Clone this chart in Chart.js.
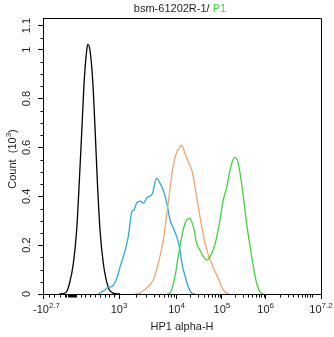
<!DOCTYPE html>
<html><head><meta charset="utf-8">
<script src="https://cdn.jsdelivr.net/npm/chart.js@4/dist/chart.umd.min.js"></script>
<style>html,body{margin:0;padding:0;background:#fff}#wrap{width:334px;height:337px}</style>
</head><body><div id="wrap"><canvas id="c" width="334" height="337"></canvas></div>
<script>
// ---- text ----
const titleMain = 'bsm-61202R-1/ ';
const titleGate = 'P1';
const xAxisTitle = 'HP1 alpha-H';
const yAxisTitleParts = ['Count  (10', '3', ')'];

// ---- axes (x in display channels 0..1024 of a biexponential axis) ----
const xTickChannels = [0, 280, 492, 659, 820, 1024];
const xTickBase = ['-10', '10', '10', '10', '10', '10'];
const xTickExp = ['2.7', '3', '4', '5', '6', '7.2'];
const xAnchorValues = [-501, 0, 1000, 1e4, 1e5, 1e6, 15848932];
const xAnchorChannels = [0, 103, 280, 492, 659, 820, 1024];
const xMinorValues = [-400, -300, -200, -100, -80, -60, -40, -20, 0, 20, 40, 60, 80, 100, 200, 300, 400, 500, 600, 700, 800, 900,
  2e3, 3e3, 4e3, 5e3, 6e3, 7e3, 8e3, 9e3, 2e4, 3e4, 4e4, 5e4, 6e4, 7e4, 8e4, 9e4,
  2e5, 3e5, 4e5, 5e5, 6e5, 7e5, 8e5, 9e5, 2e6, 3e6, 4e6, 5e6, 6e6, 7e6, 8e6, 9e6, 1e7];
const yTickValues = [0, 0.2, 0.4, 0.6, 0.8, 1, 1.1];
const yTickLabels = ['0', '0.2', '0.4', '0.6', '0.8', '1', '1.1'];
const yMinorValues = [0.05, 0.1, 0.15, 0.25, 0.3, 0.35, 0.45, 0.5, 0.55, 0.65, 0.7, 0.75, 0.85, 0.9, 0.95, 1.05];

// ---- histogram series (count in thousands) ----
const blackX = [60, 84, 98, 112, 124, 134, 143, 152, 161, 165, 173, 183, 192, 200, 210, 222, 240, 258, 284];
const blackY = [0, 0.005, 0.045, 0.127, 0.262, 0.466, 0.671, 0.875, 0.998, 1.022, 0.998, 0.875, 0.671, 0.466, 0.262, 0.127, 0.029, 0.004, 0];
const blueX = [203, 228, 239, 253, 262, 274, 285, 296, 314, 327, 335, 345, 357, 370, 382, 394, 404, 413, 419, 431, 443, 456, 468, 480, 493, 505, 511, 523, 535, 548, 560];
const blueY = [0, 0.016, 0.027, 0.030, 0.041, 0.071, 0.115, 0.153, 0.234, 0.337, 0.344, 0.372, 0.380, 0.372, 0.393, 0.401, 0.413, 0.459, 0.473, 0.453, 0.425, 0.372, 0.303, 0.270, 0.233, 0.180, 0.131, 0.074, 0.030, 0.004, 0];
const orangeX = [339, 357, 382, 406, 425, 443, 456, 468, 480, 493, 505, 511, 523, 535, 548, 560, 572, 585, 597, 609, 621, 634, 646, 658, 670, 685];
const orangeY = [0, 0.004, 0.025, 0.057, 0.127, 0.221, 0.327, 0.431, 0.528, 0.581, 0.602, 0.609, 0.575, 0.541, 0.507, 0.439, 0.357, 0.275, 0.207, 0.160, 0.126, 0.091, 0.064, 0.030, 0.009, 0];
const greenX = [457, 468, 486, 498, 511, 523, 539, 554, 566, 578, 591, 603, 615, 627, 640, 652, 664, 677, 689, 699, 707, 716, 726, 738, 750, 763, 775, 787, 799, 812];
const greenY = [0, 0.004, 0.071, 0.153, 0.234, 0.289, 0.310, 0.275, 0.207, 0.180, 0.153, 0.139, 0.153, 0.180, 0.234, 0.303, 0.384, 0.439, 0.507, 0.548, 0.559, 0.548, 0.494, 0.398, 0.289, 0.193, 0.112, 0.044, 0.009, 0];

const FONT = '"Liberation Sans", Arial, sans-serif';
const TEXT = '#1e1e1e';

function valueToChannel(v) {
  const A = xAnchorValues, C = xAnchorChannels;
  for (let i = 0; i < A.length - 1; i++) {
    if (v >= A[i] && v <= A[i + 1]) {
      let t;
      if (A[i] >= 1000) t = (Math.log10(v) - Math.log10(A[i])) / (Math.log10(A[i + 1]) - Math.log10(A[i]));
      else t = (v - A[i]) / (A[i + 1] - A[i]);
      return C[i] + t * (C[i + 1] - C[i]);
    }
  }
  return null;
}
const pts = (xs, ys) => xs.map((x, i) => ({x: x, y: ys[i]}));
const al = v => Math.round(v) + 0.5;

function drawSupText(ctx, parts, x, y, align) {
  const fb = '11px ' + FONT, fs = '8px ' + FONT;
  ctx.font = fb; const w0 = ctx.measureText(parts[0]).width;
  ctx.font = fs; const w1 = ctx.measureText(parts[1]).width;
  ctx.font = fb; const w2 = parts[2] ? ctx.measureText(parts[2]).width : 0;
  const tot = w0 + w1 + w2;
  let left = align === 'center' ? x - tot / 2 : x;
  ctx.textAlign = 'left'; ctx.textBaseline = 'alphabetic';
  ctx.font = fb; ctx.fillText(parts[0], left, y);
  ctx.font = fs; ctx.fillText(parts[1], left + w0, y - 5);
  if (parts[2]) { ctx.font = fb; ctx.fillText(parts[2], left + w0 + w1, y); }
  return tot;
}

const overlay = {
  id: 'overlay',
  afterDraw(chart) {
    const ctx = chart.ctx, a = chart.chartArea, xs = chart.scales.x, ys = chart.scales.y;
    ctx.save();
    ctx.strokeStyle = '#000'; ctx.lineWidth = 1;
    const top = al(a.top), right = al(a.right), bottom = al(a.bottom), left = al(a.left);
    ctx.beginPath();
    ctx.moveTo(left, top); ctx.lineTo(right, top); ctx.lineTo(right, bottom);
    ctx.stroke();
    // minor ticks
    ctx.beginPath();
    yMinorValues.forEach(v => { const p = al(ys.getPixelForValue(v)); ctx.moveTo(left - 3, p); ctx.lineTo(left, p); });
    xMinorValues.forEach(v => { const c = valueToChannel(v); const p = al(xs.getPixelForValue(c)); ctx.moveTo(p, bottom); ctx.lineTo(p, bottom + 3); });
    ctx.stroke();
    ctx.fillStyle = TEXT;
    // y tick labels (rotated)
    ctx.font = '11px ' + FONT;
    yTickValues.forEach((v, i) => {
      let p = ys.getPixelForValue(v);
      ctx.font = '11px ' + FONT;
      const hw = ctx.measureText(yTickLabels[i]).width / 2;
      if (p - hw < a.top) p = a.top + hw;
      ctx.save();
      ctx.translate(30, p);
      ctx.rotate(-Math.PI / 2);
      ctx.textAlign = 'center'; ctx.textBaseline = 'alphabetic';
      ctx.fillText(yTickLabels[i], 0, 0);
      ctx.restore();
    });
    // x tick labels
    xTickChannels.forEach((c, i) => {
      let p = xs.getPixelForValue(c);
      ctx.font = '11px ' + FONT; const wb = ctx.measureText(xTickBase[i]).width;
      ctx.font = '8px ' + FONT; const we = ctx.measureText(xTickExp[i]).width;
      let l = p - (wb + we) / 2;
      if (l < 33) l = 33;
      drawSupText(ctx, [xTickBase[i], xTickExp[i], ''], l, 313, 'left');
    });
    // axis titles
    ctx.font = '11px ' + FONT; ctx.textAlign = 'center'; ctx.textBaseline = 'alphabetic';
    ctx.fillText(xAxisTitle, (a.left + a.right) / 2, 330);
    ctx.save();
    ctx.translate(16, (a.top + a.bottom) / 2 + 3);
    ctx.rotate(-Math.PI / 2);
    drawSupText(ctx, yAxisTitleParts, 0, 0, 'center');
    ctx.restore();
    // chart title (two colours)
    ctx.font = '11px ' + FONT; ctx.textAlign = 'left';
    const w1 = ctx.measureText(titleMain).width, w2 = ctx.measureText(titleGate).width;
    const tl = (a.left + a.right) / 2 - (w1 + w2) / 2 - 2;
    ctx.fillStyle = TEXT; ctx.fillText(titleMain, tl, 12);
    ctx.fillStyle = '#3ed43a'; ctx.fillText(titleGate, tl + w1, 12);
    ctx.restore();
  }
};

const ds = (label, xs, ysArr, color, order) => ({
  label: label, data: pts(xs, ysArr), borderColor: color, borderWidth: 1.3,
  pointRadius: 0, fill: false, cubicInterpolationMode: 'monotone', order: order
});

new Chart(document.getElementById('c'), {
  type: 'line',
  data: {
    datasets: [
      ds('black', blackX, blackY, '#000000', 4),
      ds('blue', blueX, blueY, '#2aa8df', 3),
      ds('orange', orangeX, orangeY, '#f2a46c', 2),
      ds('green', greenX, greenY, '#41d23b', 1)
    ]
  },
  options: {
    responsive: false, animation: false, devicePixelRatio: 1,
    layout: {padding: {left: 38, right: 13, top: 18, bottom: 38}},
    plugins: {legend: {display: false}, tooltip: {enabled: false}, title: {display: false}},
    scales: {
      x: {
        type: 'linear', min: 0, max: 1024,
        afterBuildTicks: s => { s.ticks = xTickChannels.map(v => ({value: v})); },
        ticks: {display: false},
        grid: {drawOnChartArea: false, drawTicks: true, tickLength: 5, tickColor: '#000', tickWidth: 1},
        border: {display: true, color: '#000', width: 1}
      },
      y: {
        type: 'linear', min: 0, max: 1.13,
        afterBuildTicks: s => { s.ticks = yTickValues.map(v => ({value: v})); },
        ticks: {display: false},
        grid: {drawOnChartArea: false, drawTicks: true, tickLength: 5, tickColor: '#000', tickWidth: 1},
        border: {display: true, color: '#000', width: 1}
      }
    }
  },
  plugins: [overlay]
});
</script></body></html>
